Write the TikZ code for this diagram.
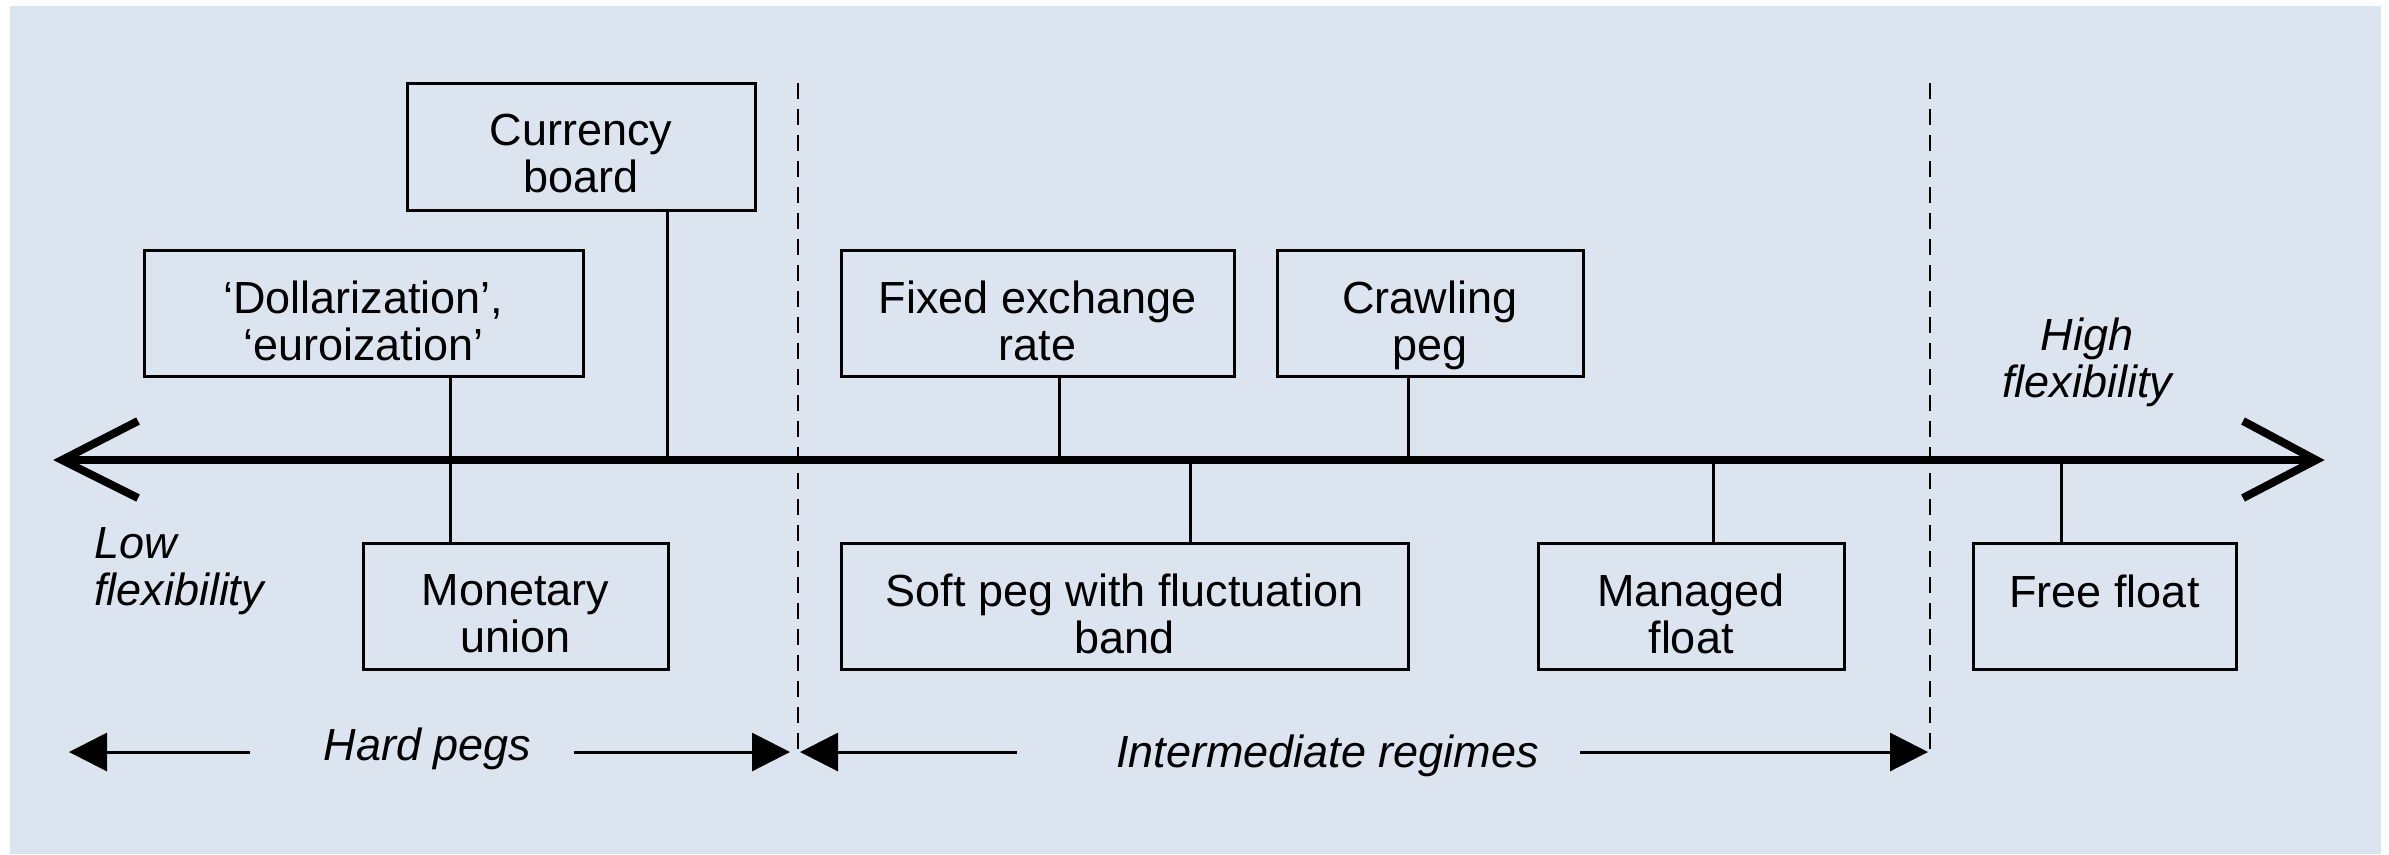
\documentclass[tikz,border=0pt]{standalone}
\usepackage{fontspec}
\setmainfont{Liberation Sans}
\usetikzlibrary{arrows.meta,fit}
\definecolor{bgblue}{RGB}{220,229,239}
\begin{document}
\begin{tikzpicture}[x=0.3pt,y=-0.3pt,
  box/.style={draw=black,line width=0.9pt,inner sep=0pt,outer sep=0pt},
  lbl/.style={font=\fontsize{13.5}{14.1}\selectfont,align=center,inner sep=0pt,outer sep=0pt,anchor=north,execute at begin node={\rule{0pt}{10pt}}},
  itlbl/.style={font=\fontsize{13.5}{14.1}\selectfont\itshape,inner sep=0pt,outer sep=0pt,execute at begin node={\rule{0pt}{10pt}}},
  spanlbl/.style={font=\fontsize{13.5}{14.1}\selectfont\itshape,inner sep=0pt,outer sep=0pt,anchor=base},
  conn/.style={draw=black,line width=0.9pt},
  axisline/.style={draw=black,line width=2.4pt,line join=miter},
  divider/.style={draw=black,line width=0.8pt,dash pattern=on 4.8pt off 3pt},
  span/.style={draw=black,line width=0.9pt,-{Triangle[length=11.4pt,width=11.4pt]}}
]
\useasboundingbox (0,0) rectangle (2389,854);
\fill[white] (0,0) rectangle (2389,854);
\fill[bgblue] (10,6) rectangle (2381,854);

% boxes
\node[box,fit={(407,83) (755,210)}] (cb) {};
\node[box,fit={(144,250) (583,376)}] (dol) {};
\node[box,fit={(363,543) (668,669)}] (mu) {};
\node[box,fit={(841,250) (1234,376)}] (fx) {};
\node[box,fit={(1277,250) (1583,376)}] (cp) {};
\node[box,fit={(841,543) (1408,669)}] (sp) {};
\node[box,fit={(1538,543) (1844,669)}] (mf) {};
\node[box,fit={(1973,543) (2236,669)}] (ff) {};

% box texts
\node[lbl] (tcb) at ([yshift=-9.4pt]cb.north) {Currency\\board};
\node[lbl] (tdol) at ([yshift=-9.4pt]dol.north) {‘Dollarization’,\\‘euroization’};
\node[lbl] (tmu) at ([yshift=-9.4pt]mu.north) {Monetary\\union};
\node[lbl] (tfx) at ([yshift=-9.4pt]fx.north) {Fixed exchange\\rate};
\node[lbl] (tcp) at ([yshift=-9.4pt]cp.north) {Crawling\\peg};
\node[lbl] (tsp) at ([yshift=-9.4pt]sp.north) {Soft peg with fluctuation\\band};
\node[lbl] (tmf) at ([yshift=-9.4pt]mf.north) {Managed\\float};
\node[lbl] (tff) at ([yshift=-9.4pt]ff.north) {Free float};

% dividers
\coordinate (d1t) at (798,83);  \coordinate (d1b) at (798,752);
\coordinate (d2t) at (1930,83); \coordinate (d2b) at (1930,752);
\draw[divider] (d1t) -- (d1b);
\draw[divider] (d2t) -- (d2b);

% axis
\coordinate (axL) at (62,460);
\coordinate (axR) at (2316,460);
\coordinate (aLu) at (138,421); \coordinate (aLd) at (138,498);
\coordinate (aRu) at (2243,421); \coordinate (aRd) at (2243,498);
\draw[axisline] (axL) -- (axR);
\draw[axisline] (aLu) -- (axL) -- (aLd);
\draw[axisline] (aRu) -- (axR) -- (aRd);

% connectors
\coordinate (kdol) at (450,460);
\coordinate (kcb) at (667,460);
\coordinate (kfx) at (1059,460);
\coordinate (kcp) at (1408,460);
\coordinate (ksp) at (1190,460);
\coordinate (kmf) at (1713,460);
\coordinate (kff) at (2061,460);
\draw[conn] (dol.south -| kdol) -- (mu.north -| kdol);
\draw[conn] (cb.south -| kcb) -- (kcb);
\draw[conn] (fx.south -| kfx) -- (kfx);
\draw[conn] (cp.south -| kcp) -- (kcp);
\draw[conn] (ksp) -- (sp.north -| ksp);
\draw[conn] (kmf) -- (mf.north -| kmf);
\draw[conn] (kff) -- (ff.north -| kff);

% flexibility labels
\node[itlbl,anchor=north west,align=left] (low) at (94,528) {Low\\flexibility};
\node[itlbl,anchor=north,align=center] (high) at (2087,318) {High\\flexibility};

% span arrows
\node[spanlbl] (hp) at (427.5,760) {Hard pegs};
\node[spanlbl] (ir) at (1327.5,767) {Intermediate regimes};
\coordinate (hp1s) at (250,752); \coordinate (hp1e) at (69,752);
\coordinate (hp2s) at (574,752); \coordinate (hp2e) at (790,752);
\coordinate (ir1s) at (1017,752); \coordinate (ir1e) at (800,752);
\coordinate (ir2s) at (1580,752); \coordinate (ir2e) at (1928,752);
\draw[span] (hp1s) -- (hp1e);
\draw[span] (hp2s) -- (hp2e);
\draw[span] (ir1s) -- (ir1e);
\draw[span] (ir2s) -- (ir2e);
\end{tikzpicture}
\end{document}
